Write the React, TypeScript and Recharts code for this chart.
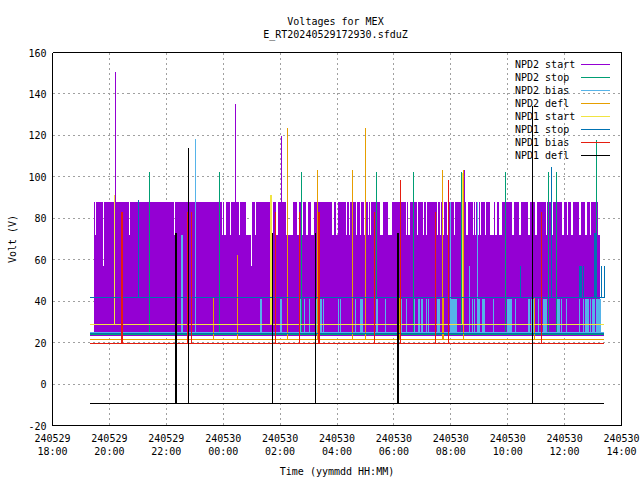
import { Area, CartesianGrid, ComposedChart, Legend, Line, XAxis, YAxis } from "recharts";

const FONT = "'DejaVu Sans Mono', monospace";

// x is minutes after 18:00 on 240529
const xTicks = [0, 120, 240, 360, 480, 600, 720, 840, 960, 1080, 1200];
const xTickDates = ["240529", "240529", "240529", "240530", "240530", "240530", "240530", "240530", "240530", "240530", "240530"];
const xTickTimes = ["18:00", "20:00", "22:00", "00:00", "02:00", "04:00", "06:00", "08:00", "10:00", "12:00", "14:00"];
const yTicks = [-20, 0, 20, 40, 60, 80, 100, 120, 140, 160];

const seriesNames = ["NPD2 start", "NPD2 stop", "NPD2 bias", "NPD2 defl", "NPD1 start", "NPD1 stop", "NPD1 bias", "NPD1 defl"];
const seriesColors = ["#9400d3", "#009e73", "#56b4e9", "#e69f00", "#f0e442", "#0072b2", "#e51e10", "#000000"];

const timeStart = 80;
const timeEnd = 1164;

// NPD2 start swings so fast it reads as a solid band, these are the gaps in its top
const bandStart = 88;
const bandLow = 23.5;
const bandHigh = 88;
const bandGaps = [
  [90, 92, 72], [107, 109, 57], [162, 164, 72], [251, 253, 72], [257, 259, 72], [358, 360, 72], [362, 366, 72],
  [375, 377, 72], [394, 396, 72], [408, 419, 72], [419, 421, 57], [427, 430, 72], [458, 465, 72], [471, 475, 72],
  [493, 508, 72], [516, 520, 72], [527, 529, 72], [535, 539, 72], [546, 552, 72], [590, 594, 72], [598, 603, 72],
  [619, 621, 72], [626, 628, 72], [632, 634, 72], [640, 643, 72], [649, 651, 72], [657, 659, 72], [666, 668, 72],
  [670, 672, 72], [691, 698, 72], [708, 716, 72], [746, 748, 72], [750, 754, 72], [769, 771, 72], [782, 784, 72],
  [788, 790, 72], [811, 813, 72], [818, 820, 72], [822, 826, 72], [833, 835, 72], [846, 848, 72], [873, 877, 72],
  [887, 889, 72], [892, 894, 72], [898, 900, 72], [902, 904, 72], [913, 915, 72], [923, 932, 72], [934, 938, 72],
  [942, 949, 72], [970, 974, 72], [984, 988, 72], [1003, 1007, 72], [1018, 1022, 72], [1041, 1043, 72], [1054, 1056, 72],
  [1075, 1079, 72], [1085, 1087, 72], [1094, 1098, 72], [1111, 1115, 72], [1124, 1128, 72], [1134, 1136, 72],
  [1141, 1143, 72], [1151, 1155, 72],
];

const npd2StartSpikes = [[133, 150.6], [386, 135], [483, 119.5], [869, 103.4]];
const npd2StopSpikes = [[205, 102.4], [352, 102.4], [525, 102.4], [683, 102.4], [761, 102.4], [863, 102.4], [955, 102.4], [1046, 102.4], [1063, 102.4], [1147, 117.6]];
const npd2BiasSpikes = [
  [272, 72], [274, 72], [302, 118.4], [439, 41], [441, 41], [464, 41], [480, 41], [482, 41],
  [524, 41], [531, 41], [541, 41], [543, 41], [556, 41], [559, 41], [564, 41], [566, 41], [568, 41], [572, 41],
  [604, 41], [607, 41], [640, 41], [649, 41], [651, 41], [653, 41], [683, 41], [685, 41], [702, 41], [735, 41], [747, 41],
  [764, 41], [771, 41], [775, 41], [778, 41], [780, 41], [788, 41], [793, 41], [812, 41], [814, 41], [816, 41],
  [839, 88], [841, 41], [843, 41], [845, 41], [848, 41], [850, 41], [852, 41], [879, 57], [886, 41], [889, 41],
  [896, 88], [898, 41], [900, 41], [906, 41], [908, 41], [910, 41], [912, 41], [931, 41], [959, 41], [961, 41], [963, 41],
  [965, 41], [967, 41], [976, 41], [1004, 41], [1006, 41], [1011, 41], [1013, 41], [1015, 41], [1025, 41],
  [1036, 41], [1038, 41], [1040, 41], [1042, 41], [1066, 41], [1068, 41], [1070, 41], [1074, 41], [1084, 41], [1111, 41],
  [1120, 41], [1124, 41], [1126, 41], [1128, 41], [1130, 41], [1134, 41], [1139, 41], [1141, 41], [1143, 41], [1147, 41],
  [1149, 41], [1151, 41], [1153, 41], [1155, 41],
];
const npd2DeflSpikes = [[340, 41.5], [390, 62.5], [496, 123.7], [559, 103.4], [633, 103.4], [660, 123.7], [732, 41.5], [822, 103.4], [825, 41.5], [867, 103.4], [1017, 41.5]];
const npd1StartSpikes = [[131, 91], [460, 91], [462, 91], [865, 102]];
const npd1StopSpikes = [[181, 89], [987, 57], [1052, 104.8], [1111, 57], [1114, 57], [1116, 57], [1120, 57], [1143, 73], [1145, 73], [1147, 73], [1158, 57], [1164, 57]];
const npd1BiasSpikes = [[146, 83], [148, 83], [285, 83], [293, 83], [470, 83], [521, 83], [561, 83], [563, 83], [679, 83], [734, 98.5], [808, 83], [835, 98.5], [1031, 83]];
const npd1DeflSpikes = [[259, 73], [262, 73], [287, 114], [464, 73], [555, 73], [728, 73], [730, 73], [1012, 134]];

const npd2StartBase = 23.5;
const npd2StopBase = 24;
const npd2BiasBase = 25;
const npd2DeflBase = 21.5;
const npd1StartBase = 28.7;
const npd1StopBase = 24.4;
const npd1StopUpper = 42;
const npd1BiasBase = 19.5;
const npd1DeflBase = -9.4;

function spikeSeries(base: number, spikes: number[][]) {
  const points = [{ t: timeStart, v: base }];
  spikes.forEach(([t, peak]) => {
    points.push({ t, v: base }, { t, v: peak }, { t, v: base });
  });
  points.push({ t: timeEnd, v: base });
  return points;
}

function bandSeries() {
  const points = [{ t: bandStart, band: [bandLow, bandHigh] }];
  bandGaps.forEach(([start, end, low]) => {
    points.push({ t: start, band: [bandLow, low] }, { t: end, band: [bandLow, bandHigh] });
  });
  points[points.length - 1].band = [bandLow, 72];
  return points;
}

function XTick({ x, index }: any) {
  return (
    <text x={x} textAnchor="middle" fontFamily={FONT} fontSize={10} fill="#000">
      <tspan x={x} y={442}>{xTickDates[index]}</tspan>
      <tspan x={x} y={455}>{xTickTimes[index]}</tspan>
    </text>
  );
}

function YTick({ x, y, payload }: any) {
  return (
    <text x={x} y={y + 4} textAnchor="end" fontFamily={FONT} fontSize={10} fill="#000">
      {payload.value}
    </text>
  );
}

function LegendBox() {
  return (
    <div style={{ fontFamily: FONT, fontSize: 10, color: "#000" }}>
      {seriesNames.map((name, i) => (
        <div key={name} style={{ position: "absolute", top: i * 13, left: 0, width: 96, height: 13, lineHeight: "13px", whiteSpace: "pre" }}>
          {name}
          <div style={{ position: "absolute", left: 66, top: 6, width: 29, height: 1, background: seriesColors[i] }} />
        </div>
      ))}
    </div>
  );
}

function seriesLine(key: string, data: any[], color: string) {
  return <Line key={key} data={data} dataKey="v" stroke={color} strokeWidth={1} dot={false} isAnimationActive={false} legendType="none" />;
}

export default function App() {
  return (
    <div style={{ position: "absolute", left: 0, top: 0, width: 640, height: 480, background: "#fff" }}>
      <style>{`.recharts-surface path, .recharts-surface line { shape-rendering: crispEdges; }`}</style>
      <div style={{ position: "absolute", top: 15, left: 0, width: 671, textAlign: "center", fontFamily: FONT, fontSize: 10, lineHeight: "13px", color: "#000" }}>
        Voltages for MEX
        <br />
        E_RT20240529172930.sfduZ
      </div>
      <ComposedChart width={640} height={480} margin={{ top: 52.5, right: 18.5, left: 0, bottom: 0 }}>
        <CartesianGrid stroke="#a0a0a0" strokeDasharray="2 3" />
        <XAxis
          type="number"
          dataKey="t"
          domain={[0, 1200]}
          ticks={xTicks}
          interval={0}
          height={54.5}
          stroke="#000"
          tickLine={false}
          tick={<XTick />}
          label={{ value: "Time (yymmdd HH:MM)", position: "insideBottom", offset: 5, fontFamily: FONT, fontSize: 10, fill: "#000" }}
        />
        <XAxis xAxisId="bottomTicks" type="number" dataKey="t" domain={[0, 1200]} ticks={xTicks} interval={0} mirror tick={false} tickSize={5} axisLine={false} stroke="#000" />
        <XAxis xAxisId="top" orientation="top" type="number" dataKey="t" domain={[0, 1200]} ticks={xTicks} interval={0} mirror tick={false} tickSize={5} stroke="#000" />
        <YAxis
          domain={[-20, 160]}
          ticks={yTicks}
          interval={0}
          width={52.5}
          stroke="#000"
          tickLine={false}
          tickMargin={0}
          tick={<YTick />}
          label={{ value: "Volt (V)", angle: -90, position: "insideLeft", offset: 12, style: { textAnchor: "middle" }, fontFamily: FONT, fontSize: 10, fill: "#000" }}
        />
        <YAxis yAxisId="leftTicks" domain={[-20, 160]} ticks={yTicks} interval={0} mirror tick={false} tickSize={5} axisLine={false} stroke="#000" />
        <YAxis yAxisId="right" orientation="right" domain={[-20, 160]} ticks={yTicks} interval={0} mirror tick={false} tickSize={5} stroke="#000" />
        <Area data={bandSeries()} dataKey="band" type="stepAfter" stroke="none" fill={seriesColors[0]} fillOpacity={1} dot={false} isAnimationActive={false} legendType="none" />
        {seriesLine("npd2Start", spikeSeries(npd2StartBase, npd2StartSpikes), seriesColors[0])}
        {seriesLine("npd2Stop", spikeSeries(npd2StopBase, npd2StopSpikes), seriesColors[1])}
        {seriesLine("npd2Bias", spikeSeries(npd2BiasBase, npd2BiasSpikes), seriesColors[2])}
        {seriesLine("npd2Defl", spikeSeries(npd2DeflBase, npd2DeflSpikes), seriesColors[3])}
        {seriesLine("npd1Start", spikeSeries(npd1StartBase, npd1StartSpikes), seriesColors[4])}
        {seriesLine("npd1Stop", spikeSeries(npd1StopBase, []), seriesColors[5])}
        {seriesLine("npd1StopUpper", spikeSeries(npd1StopUpper, npd1StopSpikes), seriesColors[5])}
        {seriesLine("npd1Bias", spikeSeries(npd1BiasBase, npd1BiasSpikes), seriesColors[6])}
        {seriesLine("npd1Defl", spikeSeries(npd1DeflBase, npd1DeflSpikes), seriesColors[7])}
        <Legend
          layout="horizontal"
          verticalAlign="middle"
          align="center"
          content={<LegendBox />}
          wrapperStyle={{ position: "absolute", left: 515, top: 58, width: 96, height: 104 }}
        />
      </ComposedChart>
    </div>
  );
}
